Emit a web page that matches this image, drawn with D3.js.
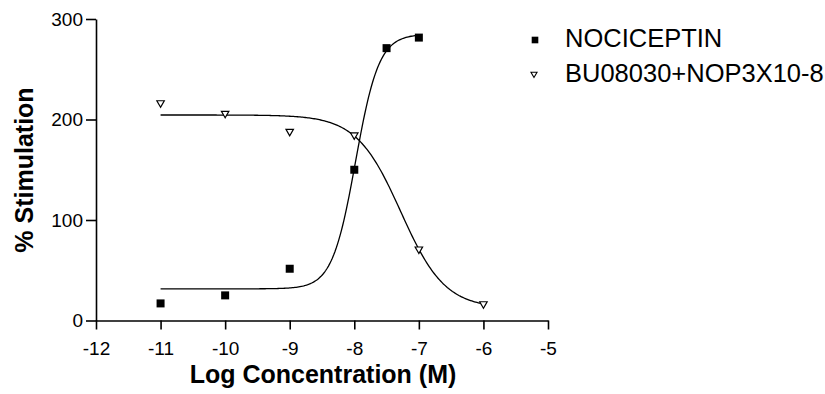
<!DOCTYPE html>
<html>
<head>
<meta charset="utf-8">
<script src="https://cdn.jsdelivr.net/npm/d3@7"></script>
<style>
  body { margin: 0; background: #fff; }
  svg { font-family: "Liberation Sans", Arial, sans-serif; }
</style>
</head>
<body>
<div id="graph"></div>
<script>
// values
const xTicks = [-12, -11, -10, -9, -8, -7, -6, -5];
const yTicks = [0, 100, 200, 300];

const nocLogConc = [-11, -10, -9, -8, -7.5, -7];
const nocValues = [17, 25, 51.5, 150, 271, 281.5];

const buLogConc = [-11, -10, -9, -8, -7, -6];
const buValues = [216.5, 206, 188, 184.5, 71, 16.5];

// fitted sigmoid params (bottom, top, logEC50, hill) estimated from the drawn curves
const nocFit = { bottom: 31.5, top: 285, logEC50: -7.98, hill: 2.4, from: -11, to: -7 };
const buFit = { bottom: 12, top: 204.5, logEC50: -7.28, hill: -1.27, from: -11, to: -6 };

const legendLabels = ['NOCICEPTIN', 'BU08030+NOP3X10-8'];

const width = 825, height = 394;

const svg = d3.select('#graph')
  .append('svg')
  .attr('width', width)
  .attr('height', height);

const x = d3.scaleLinear().domain([-12, -5]).range([96, 548]);
const y = d3.scaleLinear().domain([0, 300]).range([320.5, 19]);

// plain hyphen minus, no decimals
const fmt = function(d) { return String(d); };

// axes
const xAxis = svg.append('g')
  .attr('transform', 'translate(0,' + y(0) + ')')
  .call(d3.axisBottom(x).tickValues(xTicks).tickFormat(fmt).tickSize(9).tickSizeOuter(0).tickPadding(12));

const yAxis = svg.append('g')
  .attr('transform', 'translate(' + x(-12) + ',0)')
  .call(d3.axisLeft(y).tickValues(yTicks).tickFormat(fmt).tickSize(10).tickSizeOuter(0).tickPadding(3));

[xAxis, yAxis].forEach(function(a) {
  a.selectAll('path, line').attr('stroke', '#000').attr('stroke-width', 1.6);
  a.selectAll('text').attr('fill', '#000').style('font-size', '19px')
    .style('font-family', '"Liberation Sans", Arial, sans-serif');
});

// curves
function sigmoid(p) {
  return function(lx) {
    return p.bottom + (p.top - p.bottom) / (1 + Math.pow(10, (p.logEC50 - lx) * p.hill));
  };
}

function curvePoints(p) {
  const f = sigmoid(p);
  return d3.range(p.from, p.to + 0.0001, 0.02).map(function(lx) { return [lx, f(lx)]; });
}

const line = d3.line()
  .x(function(d) { return x(d[0]); })
  .y(function(d) { return y(d[1]); });

[nocFit, buFit].forEach(function(p) {
  svg.append('path')
    .attr('d', line(curvePoints(p)))
    .attr('fill', 'none')
    .attr('stroke', '#000')
    .attr('stroke-width', 1.3);
});

// points
const square = d3.symbol(d3.symbolSquare, 64);
const tri = d3.symbol(d3.symbolTriangle, 24);

svg.selectAll('.noc')
  .data(d3.zip(nocLogConc, nocValues))
  .enter()
  .append('path')
  .attr('class', 'noc')
  .attr('d', square)
  .attr('transform', function(d) { return 'translate(' + x(d[0]) + ',' + y(d[1]) + ')'; })
  .attr('fill', '#000');

svg.selectAll('.bu')
  .data(d3.zip(buLogConc, buValues))
  .enter()
  .append('path')
  .attr('class', 'bu')
  .attr('d', tri)
  .attr('transform', function(d) { return 'translate(' + x(d[0]) + ',' + y(d[1]) + ') rotate(180)'; })
  .attr('fill', '#fff')
  .attr('stroke', '#000')
  .attr('stroke-width', 1.2);

// axis titles
svg.append('text')
  .attr('x', 323)
  .attr('y', 383)
  .attr('text-anchor', 'middle')
  .style('font-size', '25px')
  .style('font-weight', 'bold')
  .text('Log Concentration (M)');

svg.append('text')
  .attr('transform', 'translate(33,170) rotate(-90)')
  .attr('text-anchor', 'middle')
  .style('font-size', '25px')
  .style('font-weight', 'bold')
  .text('% Stimulation');

// legend
const legend = svg.append('g');
legend.append('path')
  .attr('d', d3.symbol(d3.symbolSquare, 44))
  .attr('transform', 'translate(535,40)')
  .attr('fill', '#000');
legend.append('path')
  .attr('d', d3.symbol(d3.symbolTriangle, 16))
  .attr('transform', 'translate(534,74) rotate(180)')
  .attr('fill', '#fff')
  .attr('stroke', '#000')
  .attr('stroke-width', 1.1);

legend.selectAll('.lab')
  .data(legendLabels)
  .enter()
  .append('text')
  .attr('class', 'lab')
  .attr('x', 565)
  .attr('y', function(d, i) { return 47 + i * 34.5; })
  .style('font-size', '25.5px')
  .text(function(d) { return d; });
</script>
</body>
</html>
